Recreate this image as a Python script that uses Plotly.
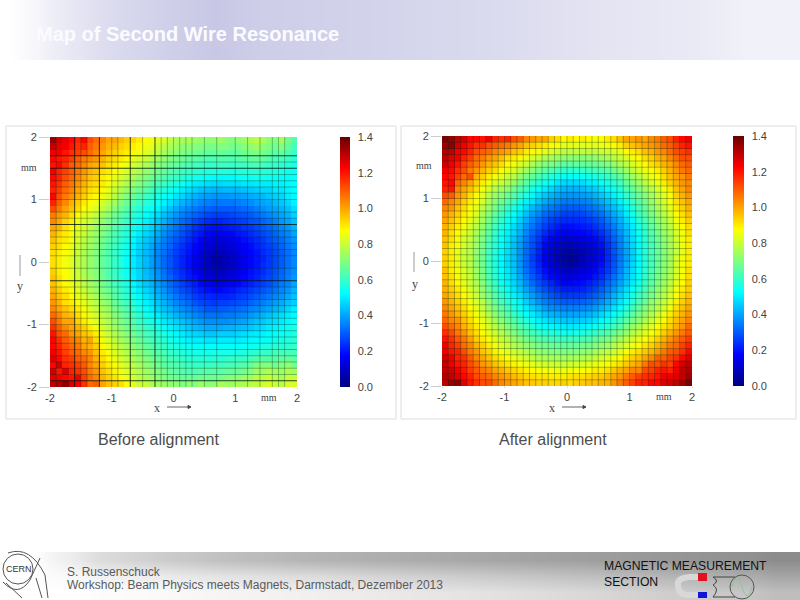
import plotly.graph_objects as go

# Cell values, in hundredths of the colour-bar unit. Rows run top (y=2) to bottom (y=-2).
before_rows = [
[135,128,125,122,118,122,112,108,104,100,100,97,94,93,90,87,86,83,82,78,76,75,76,74,73,72,72,74,72,70,72,74,76,78,76,72,70,74,68,64],
[130,126,124,120,116,118,110,106,102,98,97,94,92,90,88,85,84,80,78,76,74,72,72,71,70,69,69,70,70,68,69,71,72,74,72,70,68,70,66,62],
[124,124,120,116,114,112,108,104,100,96,94,92,90,88,85,83,80,78,75,73,71,70,69,68,67,66,66,67,66,66,66,68,69,70,69,67,65,66,63,60],
[122,120,118,114,110,106,104,102,98,94,92,90,88,85,82,80,77,74,72,70,68,67,66,65,64,63,63,64,64,63,64,65,66,66,66,64,62,62,60,58],
[120,122,116,110,108,104,100,98,96,92,90,88,85,82,79,76,73,71,69,67,66,64,63,62,61,60,60,61,61,60,61,61,62,63,62,60,60,59,58,56],
[124,118,114,110,106,102,98,96,92,90,88,85,82,79,76,73,70,68,66,64,62,61,60,59,58,57,57,57,57,56,57,58,58,59,58,58,57,56,55,54],
[122,118,112,108,104,100,96,94,90,88,85,82,79,76,73,70,67,65,63,61,60,58,56,55,54,53,52,52,52,52,53,54,54,55,55,54,54,53,53,54],
[120,116,110,106,102,98,94,92,90,86,83,80,76,73,70,67,64,62,60,58,56,54,52,50,49,48,47,47,48,48,48,49,49,50,50,50,51,51,52,53],
[118,114,108,104,100,96,92,90,88,84,80,77,73,70,67,64,61,59,57,55,53,50,48,46,44,43,42,42,43,43,43,44,45,46,47,47,49,49,51,53],
[122,112,106,102,98,94,90,88,85,82,78,74,70,67,64,61,58,56,54,52,49,47,44,42,40,39,38,38,38,39,39,40,41,42,43,45,46,47,50,52],
[118,110,104,98,94,90,88,85,82,78,75,71,67,64,61,58,56,54,51,48,45,42,40,38,36,35,34,34,34,34,35,36,37,39,40,41,43,45,47,51],
[112,106,100,96,92,88,85,82,79,75,71,68,64,61,58,55,53,51,47,44,41,38,36,34,32,31,30,30,30,30,31,32,33,35,37,39,40,42,44,48],
[106,102,98,92,88,84,82,79,75,72,68,65,62,59,56,53,50,48,44,41,38,35,33,31,29,27,26,26,26,27,28,29,30,32,34,36,38,40,42,46],
[104,100,94,90,85,82,80,76,73,69,66,63,60,57,54,51,48,45,42,38,35,32,30,27,25,23,22,22,23,24,25,26,28,29,31,33,35,38,40,44],
[100,98,92,88,84,81,78,74,71,68,64,61,58,55,52,49,46,43,39,36,33,30,27,24,22,20,19,19,20,21,22,24,25,27,29,31,33,36,38,42],
[98,94,90,86,82,80,76,73,70,66,63,60,57,54,50,47,44,41,37,34,31,28,25,22,20,18,16,16,17,18,20,21,23,25,27,29,31,34,36,40],
[96,92,90,86,82,78,75,72,68,65,62,59,56,52,48,45,42,39,35,32,29,26,23,20,17,14,13,13,14,15,17,19,21,23,25,28,30,32,35,38],
[94,92,88,84,80,77,74,71,68,64,61,58,55,51,47,44,40,37,34,31,27,24,21,18,15,12,10,10,11,13,15,17,19,22,24,26,28,31,34,37],
[92,90,87,84,80,76,73,70,67,63,60,57,54,50,46,43,40,36,33,29,26,23,20,17,13,10,8,8,9,11,13,16,18,20,23,25,27,30,33,36],
[92,90,86,83,79,76,73,70,66,63,60,57,53,50,46,43,39,36,32,29,25,22,19,16,12,9,6,6,8,10,12,15,18,20,22,25,27,30,33,36],
[92,90,86,83,79,76,73,70,66,63,60,57,53,50,46,43,39,36,32,29,25,22,19,16,13,9,7,7,8,10,13,15,18,20,23,25,27,30,33,36],
[94,90,87,84,80,76,73,70,67,63,60,57,54,50,47,43,40,37,33,29,26,23,20,17,14,11,9,9,10,12,14,16,19,21,23,26,28,31,34,37],
[96,92,88,84,81,77,74,71,68,64,61,58,55,51,47,44,41,38,34,31,27,24,21,19,16,13,11,11,12,14,16,18,20,22,25,27,29,32,35,38],
[96,92,88,85,82,78,75,72,69,65,62,59,56,52,48,45,42,39,36,32,29,26,23,21,18,16,14,14,15,17,18,20,22,24,26,28,31,34,36,40],
[98,94,90,86,83,80,76,73,70,67,64,61,57,54,50,47,44,41,38,34,31,28,26,23,21,19,18,18,19,20,22,23,25,27,29,31,33,36,38,42],
[100,96,92,88,84,82,78,75,72,69,65,62,59,56,52,49,46,43,40,37,34,31,29,26,24,23,22,22,22,23,25,26,28,30,32,34,36,38,41,44],
[102,98,92,90,86,84,80,77,74,71,67,64,61,58,54,51,48,45,42,39,36,34,32,29,27,26,25,26,26,27,28,29,31,33,35,37,39,41,44,46],
[104,100,96,92,90,86,82,79,76,73,69,66,63,60,56,53,50,47,44,42,39,37,35,33,31,29,29,30,30,31,32,33,35,36,38,40,42,44,47,50],
[108,104,98,96,92,88,84,81,78,75,71,68,65,62,58,55,52,50,47,45,42,40,38,36,34,33,33,33,34,34,35,36,38,40,42,44,46,48,50,52],
[112,106,100,100,94,90,86,83,80,76,73,70,67,64,60,57,55,53,50,48,46,44,42,40,38,37,37,37,37,38,39,40,42,44,45,47,48,50,52,54],
[116,110,104,100,98,94,90,86,82,78,75,72,69,66,63,60,58,56,53,51,49,47,45,43,42,41,41,41,42,42,43,44,45,47,48,50,51,52,54,56],
[120,112,108,102,100,96,94,90,84,80,77,74,71,68,65,62,60,58,56,54,52,50,48,47,46,45,45,46,46,46,47,48,49,50,51,52,53,54,55,57],
[122,116,110,106,104,98,100,92,86,82,79,76,73,70,67,64,62,60,58,56,54,52,51,50,50,49,49,50,50,50,50,51,52,52,53,54,55,56,57,58],
[122,118,112,108,106,100,98,94,88,84,81,78,75,72,69,66,64,62,60,58,56,55,54,53,53,53,53,53,53,53,53,54,54,55,56,57,58,58,59,60],
[124,120,114,110,108,104,102,96,90,86,83,80,77,74,71,68,66,64,62,60,59,57,56,56,55,55,56,56,56,56,56,57,58,59,60,60,62,62,62,62],
[126,122,116,114,110,108,104,98,92,88,85,82,79,76,73,70,68,66,64,62,61,60,58,58,58,58,58,58,59,60,60,60,62,64,64,64,64,66,66,65],
[122,128,118,116,114,110,104,100,94,90,87,84,81,78,75,72,70,68,65,64,63,62,61,60,60,60,61,61,62,62,63,64,66,70,70,70,68,70,72,68],
[128,120,126,118,116,112,106,102,96,92,89,86,83,80,77,74,72,70,68,66,65,64,63,63,64,64,64,65,66,66,67,68,70,74,74,76,74,74,76,74],
[126,124,122,120,124,114,108,104,98,94,91,88,85,82,78,76,74,72,70,68,68,67,67,67,68,68,68,69,70,72,72,74,74,78,78,80,78,76,80,80],
[130,132,136,128,124,116,108,110,100,96,94,92,88,84,80,80,76,74,74,72,72,70,72,70,74,72,72,76,74,74,76,76,78,78,80,82,80,78,82,82],
]
after_rows = [
[138,135,130,128,122,122,120,124,118,116,118,112,110,104,102,100,100,94,92,88,90,88,90,88,86,88,90,92,96,100,100,102,100,104,106,110,112,118,122,124],
[134,136,128,124,120,116,116,112,110,108,106,102,100,96,94,92,90,88,86,84,84,84,83,84,84,85,86,88,90,94,96,98,100,102,104,108,110,114,118,120],
[132,130,124,122,118,112,110,108,104,102,100,96,94,90,88,86,84,82,80,78,78,78,78,78,78,80,80,82,84,88,90,92,96,98,102,104,108,112,114,116],
[130,126,124,118,114,108,106,102,100,96,92,90,88,84,82,80,76,75,73,72,72,71,71,72,72,74,76,78,80,82,86,88,92,94,98,100,104,108,112,112],
[128,124,120,114,110,106,102,98,96,92,88,86,82,80,76,73,70,69,67,65,65,65,66,66,67,68,70,73,76,78,82,85,88,92,94,98,100,104,108,110],
[124,122,116,112,106,102,98,94,92,88,84,82,78,74,71,68,65,63,61,59,59,59,60,61,62,63,65,68,71,74,78,82,85,88,90,94,98,102,106,108],
[122,120,114,108,112,98,94,90,86,84,80,78,73,69,66,63,60,57,55,53,53,53,54,55,56,58,60,63,66,70,74,77,81,85,88,92,96,100,102,106],
[120,122,108,104,100,94,90,86,82,80,76,73,68,65,61,58,55,52,49,47,47,47,48,50,51,54,56,59,62,66,70,74,78,82,85,90,94,98,102,104],
[118,120,104,100,96,92,86,82,78,75,72,68,64,60,56,53,50,47,44,42,42,42,43,45,46,49,52,55,58,63,66,70,74,78,82,86,90,96,100,104],
[112,110,102,98,92,88,84,78,74,71,67,64,60,56,52,48,45,42,40,38,38,38,39,40,42,45,48,51,55,59,63,67,71,75,80,84,88,94,98,102],
[108,104,100,94,90,86,82,76,71,67,63,60,55,51,48,44,41,38,36,34,34,34,35,36,38,41,44,47,51,55,60,64,68,73,78,82,86,92,96,100],
[104,102,96,92,88,84,78,74,69,64,59,56,52,48,43,40,36,34,32,30,30,30,31,33,34,37,41,44,48,52,57,62,66,71,76,80,84,90,94,98],
[102,98,94,90,86,82,76,71,66,61,56,53,49,44,39,36,32,30,28,26,26,26,27,29,31,33,37,41,45,50,55,60,64,69,74,78,82,88,92,96],
[100,96,92,88,84,80,75,69,64,59,54,51,46,41,36,32,29,26,24,23,23,23,24,25,27,30,34,38,42,47,52,58,62,67,72,76,80,86,90,94],
[98,94,90,86,82,78,73,67,62,57,53,48,44,38,34,30,26,23,21,19,19,20,21,22,24,27,31,35,40,45,50,56,60,66,70,75,78,84,88,92],
[98,92,88,84,80,76,71,66,60,55,51,47,42,36,31,27,23,20,18,16,16,17,18,19,21,24,28,33,38,43,49,54,59,64,69,74,77,82,86,92],
[96,92,86,82,80,74,70,64,59,54,50,45,40,34,29,25,20,17,15,13,12,13,14,16,18,21,26,31,36,42,48,53,58,63,68,72,76,82,86,90],
[96,90,86,82,78,74,69,63,58,53,49,44,39,33,28,23,18,15,12,10,9,10,11,13,16,19,24,29,35,41,47,52,57,62,67,72,76,80,86,90],
[94,90,84,80,78,72,68,62,57,52,48,44,38,32,27,22,17,13,10,8,6,7,9,11,14,18,23,29,34,40,46,52,57,62,67,71,75,80,84,90],
[94,90,84,80,78,72,68,62,57,52,48,44,38,32,26,21,16,12,9,6,4,5,8,11,14,18,23,28,34,40,46,52,57,62,67,71,75,82,86,90],
[94,90,84,80,78,72,68,62,57,52,48,44,38,32,27,22,17,13,10,7,5,6,9,12,15,19,24,29,35,41,47,52,57,62,67,72,76,82,86,90],
[96,90,86,82,78,74,69,63,58,53,49,45,39,33,28,23,19,15,12,10,9,10,12,14,17,21,25,30,36,42,48,53,58,63,68,72,76,82,86,92],
[96,92,86,82,80,74,70,64,59,54,50,46,41,35,30,26,21,18,16,14,13,14,15,17,20,23,28,33,38,43,49,54,59,64,69,73,77,82,88,92],
[98,92,88,84,80,76,71,65,60,55,51,47,43,37,32,28,25,22,19,17,17,18,19,21,23,26,31,35,40,45,50,55,60,65,70,74,78,84,88,94],
[98,94,90,86,82,78,72,67,62,57,53,49,45,40,36,31,28,25,23,21,21,21,22,24,26,30,34,38,43,48,53,57,62,67,72,76,80,86,90,94],
[100,96,92,88,84,80,74,69,64,59,55,51,48,43,39,35,32,29,27,25,25,25,26,28,30,33,37,42,46,50,55,60,64,69,74,78,82,88,92,96],
[102,98,94,90,86,82,78,72,67,62,58,55,51,46,42,38,35,33,31,30,30,30,31,32,34,37,41,45,49,53,58,62,67,72,76,80,84,90,94,98],
[104,100,96,92,88,84,80,74,70,65,61,57,54,50,46,43,39,37,36,35,35,35,36,37,39,42,45,49,53,57,61,66,70,74,78,82,86,92,96,100],
[106,102,98,94,90,86,82,77,72,68,64,60,57,53,50,47,44,42,41,40,40,40,41,42,44,47,50,53,57,61,65,69,73,77,81,85,90,94,98,102],
[108,104,102,96,92,88,84,80,75,71,67,64,60,57,54,51,49,47,46,45,45,45,46,47,49,52,54,58,61,65,69,72,76,80,84,88,92,96,100,104],
[112,108,104,98,94,90,86,82,78,74,70,67,64,61,58,55,53,52,51,50,50,50,51,52,54,56,59,62,65,69,73,76,80,83,87,91,94,98,102,108],
[116,112,106,102,96,92,88,84,81,77,73,70,67,64,62,60,58,57,56,55,55,56,56,58,60,62,64,67,70,73,77,80,83,87,90,94,98,102,106,110],
[120,116,110,106,100,94,90,87,84,80,77,74,71,68,66,64,63,62,61,60,61,61,62,63,65,67,69,72,75,78,81,84,87,90,94,98,102,106,110,114],
[124,118,114,108,104,98,94,90,86,83,80,77,75,72,71,69,68,67,66,66,66,66,68,68,70,72,74,77,80,82,85,88,91,94,98,102,106,108,114,118],
[124,120,118,112,106,102,96,93,89,86,84,81,79,77,75,73,72,71,71,70,71,71,72,73,75,77,79,81,84,87,90,92,95,98,102,106,110,112,116,122],
[128,124,118,116,110,104,100,96,92,90,87,85,83,81,79,77,77,76,76,75,76,76,77,78,80,82,84,86,88,91,94,96,100,104,110,110,114,116,122,126],
[130,124,120,118,112,108,102,100,96,93,91,89,87,85,84,82,81,81,80,80,81,81,82,83,85,86,88,90,92,95,98,100,106,112,112,116,114,122,128,130],
[130,128,124,120,114,110,106,104,100,98,95,93,91,89,88,87,86,86,85,85,86,86,87,88,90,90,92,95,98,100,104,104,112,114,118,120,118,124,130,132],
[132,130,126,122,118,112,110,108,104,102,100,97,95,93,92,91,91,90,90,90,91,92,92,93,94,95,97,100,102,106,110,114,116,118,120,124,124,126,130,134],
[130,134,136,126,120,116,112,112,108,104,102,100,98,96,95,94,94,93,93,94,92,94,95,96,96,98,98,102,106,110,114,118,118,122,122,126,128,130,134,138],
]
axis_ticks = [-2, -1, 0, 1, 2]
cbar_ticks = [0.0, 0.2, 0.4, 0.6, 0.8, 1.0, 1.2, 1.4]

before_v_light = [-1.9,-1.5,-1.4,-1.0,-0.9,-0.5,-0.2,-0.1,0,0.1,0.2,0.3,0.5,0.7,1.0,1.2,1.4,1.6,1.7,1.8]
before_v_dark = [-1.6,-1.2,-0.7,-0.3]
before_h_light = [1.6,1.4,1.3,1.2,1.1,1.0,0.8,0.7,0.5,0.4,0.3,0.2,0.1,-0.1,-0.4,-0.5,-0.6,-0.7,-0.8,-0.9,-1.0,-1.1,-1.2,-1.3,-1.4,-1.5,-1.6,-1.7,-1.8]
before_h_dark = [1.7,1.5,0.6,-0.3,-1.9]

header_x_edges = [0, 20, 50, 100, 170, 260, 500, 700, 800]
header_y_edges = [0, 30, 60]
header_z = [0, 0.15, 0.45, 0.75, 1.0, 0.8, 0.5, 0.25]
footer_x_edges = [0, 20, 50, 100, 220, 400, 600, 750, 800]
footer_y_edges = [552, 568, 584, 600]
footer_grey = [
    [255, 255, 235, 205, 180, 165, 150, 140],
    [255, 255, 248, 235, 220, 200, 180, 165],
    [255, 255, 255, 250, 240, 225, 205, 190],
]

JET = [[0, "#00007f"], [0.125, "#0000ff"], [0.375, "#00ffff"], [0.625, "#ffff00"], [0.875, "#ff0000"], [1, "#6a0000"]]
W, H = 800, 600
px = lambda v: v / W
py = lambda v: 1 - v / H
cells = [-1.95 + 0.1 * i for i in range(40)]
TXT = "#444444"
SANS = "Liberation Sans"
SERIF = "Liberation Serif"

fig = go.Figure()
# decorative bands, on a hidden pixel axis
fig.add_trace(go.Heatmap(x=header_x_edges, y=header_y_edges, z=[header_z, header_z], zsmooth="best", showscale=False, hoverinfo="skip",
                         colorscale=[[0, "#ffffff"], [1, "#c8c8e6"]], zmin=0, zmax=1, xaxis="x3", yaxis="y3"))
fig.add_trace(go.Heatmap(x=footer_x_edges, y=footer_y_edges, z=footer_grey, zsmooth="best", showscale=False, hoverinfo="skip",
                         colorscale=[[0, "#000000"], [1, "#ffffff"]], zmin=0, zmax=255, xaxis="x3", yaxis="y3"))


def cbar(x_px, y_mid):
    return dict(x=px(x_px), xanchor="left", y=py(y_mid), yanchor="middle", len=250 / H, thickness=10 if x_px < 400 else 11,
                outlinewidth=0, tickvals=cbar_ticks, ticktext=[f"{t:.1f}" for t in cbar_ticks], ticks="outside", ticklen=6,
                tickcolor="rgba(0,0,0,0)", tickfont=dict(family=SANS, size=11, color=TXT), xpad=0, ypad=0)


fig.add_trace(go.Heatmap(x=cells, y=cells[::-1], z=[[v / 100 for v in r] for r in before_rows], colorscale=JET, zmin=0, zmax=1.4,
                         colorbar=cbar(340, 262), xaxis="x", yaxis="y"))
fig.add_trace(go.Heatmap(x=cells, y=cells[::-1], z=[[v / 100 for v in r] for r in after_rows], colorscale=JET, zmin=0, zmax=1.4,
                         colorbar=cbar(733, 261), xaxis="x2", yaxis="y2"))

shapes = []
for x0, y0, x1, y1 in [(6, 126, 396, 419), (401, 126, 796, 419)]:
    shapes.append(dict(type="rect", xref="paper", yref="paper", x0=px(x0), x1=px(x1), y0=py(y0), y1=py(y1),
                       line=dict(color="#dddddd", width=1), fillcolor="white", layer="below"))


def grid(xr, yr, vals, vertical, color, width=1):
    for v in vals:
        if vertical:
            shapes.append(dict(type="line", xref=xr, yref=yr, x0=v, x1=v, y0=-2, y1=2, line=dict(color=color, width=width)))
        else:
            shapes.append(dict(type="line", xref=xr, yref=yr, x0=-2, x1=2, y0=v, y1=v, line=dict(color=color, width=width)))


LIGHT = "rgba(0,40,20,0.32)"
DARK = "rgba(0,20,10,0.8)"
grid("x", "y", before_v_light, True, LIGHT)
grid("x", "y", before_v_dark, True, DARK)
grid("x", "y", before_h_light, False, LIGHT)
grid("x", "y", before_h_dark, False, DARK)
grid("x2", "y2", [round(-1.9 + 0.1 * i, 1) for i in range(39)], True, LIGHT)
grid("x2", "y2", [round(-1.9 + 0.1 * i, 1) for i in range(39)], False, LIGHT)


def pline(x0, y0, x1, y1, color="#666666", width=1):
    shapes.append(dict(type="line", xref="paper", yref="paper", x0=px(x0), x1=px(x1), y0=py(y0), y1=py(y1),
                       line=dict(color=color, width=width)))


def ppath(points, color="#444444", width=1, fill=None):
    d = " ".join(f"{c} {px(a):.5f},{py(b):.5f}" if c else f"{px(a):.5f},{py(b):.5f}" for c, a, b in points)
    shapes.append(dict(type="path", xref="paper", yref="paper", path=d, line=dict(color=color, width=width),
                       fillcolor=fill or "rgba(0,0,0,0)"))


def pcircle(cx, cy, rx, ry, color="#444444", width=1):
    shapes.append(dict(type="circle", xref="paper", yref="paper", x0=px(cx - rx), x1=px(cx + rx), y0=py(cy - ry), y1=py(cy + ry),
                       line=dict(color=color, width=width)))


def prect(x0, y0, x1, y1, fill):
    shapes.append(dict(type="rect", xref="paper", yref="paper", x0=px(x0), x1=px(x1), y0=py(y0), y1=py(y1), fillcolor=fill, line_width=0))


# axis arrows
pline(167, 407, 190, 407); pline(20, 255, 20, 276, "#999999")
pline(562, 407, 585, 407); pline(414, 252, 414, 272, "#999999")
ppath([("M", 188, 405.5), ("L", 191, 407), ("L", 188, 408.5), ("Z", 188, 405.5)], "#444444", 1, "#444444")
ppath([("M", 583, 405.5), ("L", 586, 407), ("L", 583, 408.5), ("Z", 583, 405.5)], "#444444", 1, "#444444")
# CERN logo
pcircle(18, 569, 15, 15, "#555555")
ppath([("M", 8, 553), ("Q", 30, 545), ("", 45, 575), ("L", 48, 598)], "#555555")
ppath([("M", 3, 582), ("Q", 18, 598), ("", 30, 580), ("L", 40, 558)], "#555555")
ppath([("M", 6, 583), ("L", 22, 598)], "#555555")
ppath([("M", 36, 578), ("L", 42, 598)], "#555555")
# magnet logo
ppath([("M", 700, 577), ("L", 690, 577), ("Q", 676, 578), ("", 678, 586), ("Q", 678, 595), ("", 690, 595), ("L", 700, 595)], "#d8d8d8", 6)
prect(698, 573, 707, 581, "#e0141e")
prect(698, 592, 707, 598, "#1414d8")
ppath([("M", 713, 577), ("L", 735, 577), ("M", 713, 597), ("L", 735, 597), ("M", 713, 577), ("Q", 720, 581), ("", 713, 585), ("Q", 720, 589), ("", 713, 597)], "#444444", 1)
pcircle(742, 587, 12, 12, "#555555")
ppath([("M", 732, 587), ("Q", 737, 570), ("", 742, 587), ("Q", 747, 604), ("", 752, 587)], "#8fc48f", 1)


def note(x, y, text, size=11, family=SANS, color=TXT, anchor="center", bold=False):
    shift = -2 if anchor == "left" else 0
    return dict(xref="paper", yref="paper", x=px(x), y=py(y), text=f"<b>{text}</b>" if bold else text, showarrow=False, xanchor=anchor,
                yanchor="middle", font=dict(family=family, size=size, color=color), align="left", xshift=shift)


annotations = [
    note(36, 34, "Map of Second Wire Resonance", 20, anchor="left", color="#fbfbff", bold=True),
    note(159, 440, "Before alignment", 16, color="#4d4d4d"),
    note(553, 440, "After alignment", 16, color="#4d4d4d"),
    note(67, 572, "S. Russenschuck", 12, anchor="left", color="#5a5a5a"),
    note(67, 585, "Workshop: Beam Physics meets Magnets, Darmstadt, Dezember 2013", 12, anchor="left", color="#5a5a5a"),
    note(604, 566, "MAGNETIC MEASUREMENT", 12.2, anchor="left", color="#111111"),
    note(604, 582, "SECTION", 12.2, anchor="left", color="#111111"),
    note(19, 569, "CERN", 9, color="#333333"),
    note(29, 167, "mm", 10, SERIF), note(269, 397, "mm", 10, SERIF), note(157, 408, "x", 12, SERIF), note(20, 286, "y", 12, SERIF),
    note(424, 165, "mm", 10, SERIF), note(664, 396, "mm", 10, SERIF), note(552, 408, "x", 12, SERIF), note(415, 284, "y", 12, SERIF),
]


def tick_axis(dom, anchor, ticklen):
    return dict(domain=dom, range=[-2, 2], tickvals=axis_ticks, ticktext=[str(t) for t in axis_ticks], anchor=anchor, showgrid=False, zeroline=False,
                ticks="outside", ticklen=ticklen, tickcolor="#cccccc", showline=False, tickfont=dict(family=SANS, size=11, color=TXT))


fig.update_layout(
    width=W, height=H, autosize=False, margin=dict(l=0, r=0, t=0, b=0, autoexpand=False), paper_bgcolor="white", plot_bgcolor="rgba(0,0,0,0)", showlegend=False,
    xaxis=tick_axis([px(50), px(297)], "y", 1), yaxis=tick_axis([py(387), py(137)], "x", 10),
    xaxis2=tick_axis([px(442), px(692)], "y2", 1), yaxis2=tick_axis([py(386), py(136)], "x2", 10),
    xaxis3=dict(domain=[0, 1], range=[0, 800], visible=False, anchor="y3"),
    yaxis3=dict(domain=[0, 1], range=[600, 0], visible=False, anchor="x3"),
    shapes=shapes, annotations=annotations,
)
fig.write_html("out.html", config={"displayModeBar": False}, post_script="document.body.style.margin='0';document.documentElement.style.overflow='hidden';")
